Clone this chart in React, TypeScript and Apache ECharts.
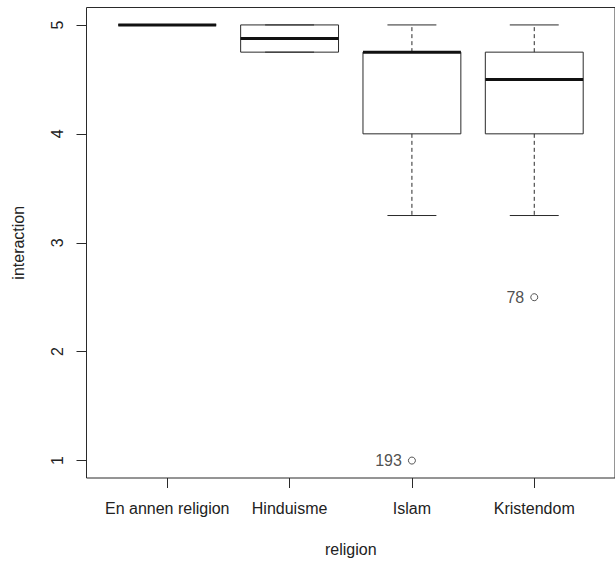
import React, { useEffect, useRef } from "react";
import * as echarts from "echarts";

// Box-and-whisker summary of "interaction" by religion
const categories = ["En annen religion", "Hinduisme", "Islam", "Kristendom"];
const whiskerLow = [5, 4.75, 3.25, 3.25];
const lowerQuartile = [5, 4.75, 4, 4];
const medians = [5, 4.875, 4.75, 4.5];
const upperQuartile = [5, 5, 4.75, 4.75];
const whiskerHigh = [5, 5, 5, 5];

// Outlying observations (category position, value, case label)
const outlierCategory = [3, 4];
const outlierValues = [1, 2.5];
const outlierLabels = ["193", "78"];

const yTicks = [1, 2, 3, 4, 5];
const xTicks = [1, 2, 3, 4];

const FONT = "'Liberation Sans', Arial, Helvetica, sans-serif";
const INK = "#2a2a2a";
const BOX_WIDTH = 0.8;
const STAPLE_WIDTH = 0.4;

export default function App() {
  const ref = useRef<HTMLDivElement>(null);

  useEffect(() => {
    if (!ref.current) return;
    const chart = echarts.init(ref.current, undefined, { renderer: "svg" });

    const boxData = categories.map((_, i) => [
      i + 1,
      whiskerLow[i],
      lowerQuartile[i],
      medians[i],
      upperQuartile[i],
      whiskerHigh[i],
    ]);

    const outlierData = outlierValues.map((v, i) => ({
      value: [outlierCategory[i], v],
      label: { formatter: outlierLabels[i] },
    }));

    const renderBox = (params: any, api: any) => {
      const x = api.value(0);
      const [cx, yLo] = api.coord([x, api.value(1)]);
      const yQ1 = api.coord([x, api.value(2)])[1];
      const yMed = api.coord([x, api.value(3)])[1];
      const yQ3 = api.coord([x, api.value(4)])[1];
      const yHi = api.coord([x, api.value(5)])[1];
      const half = api.size([BOX_WIDTH, 0])[0] / 2;
      const staple = api.size([STAPLE_WIDTH, 0])[0] / 2;
      const thin = { stroke: INK, lineWidth: 1, fill: "none" };
      const dashed = { stroke: INK, lineWidth: 1, lineDash: [4, 3] };
      return {
        type: "group",
        children: [
          { type: "line", shape: { x1: cx, y1: yQ3, x2: cx, y2: yHi }, style: dashed },
          { type: "line", shape: { x1: cx, y1: yQ1, x2: cx, y2: yLo }, style: dashed },
          { type: "line", shape: { x1: cx - staple, y1: yHi, x2: cx + staple, y2: yHi }, style: thin },
          { type: "line", shape: { x1: cx - staple, y1: yLo, x2: cx + staple, y2: yLo }, style: thin },
          {
            type: "rect",
            shape: { x: cx - half, y: yQ3, width: half * 2, height: yQ1 - yQ3 },
            style: thin,
          },
          {
            type: "line",
            shape: { x1: cx - half, y1: yMed, x2: cx + half, y2: yMed },
            style: { stroke: "#111", lineWidth: 3 },
          },
        ],
      };
    };

    chart.setOption({
      animation: false,
      backgroundColor: "#ffffff",
      textStyle: { fontFamily: FONT },
      grid: {
        left: 86.5,
        top: 7.5,
        width: 533,
        height: 472,
        show: true,
        borderColor: INK,
        borderWidth: 1,
        backgroundColor: "transparent",
      },
      xAxis: {
        type: "value",
        min: 0.34,
        max: 4.66,
        name: "religion",
        nameLocation: "middle",
        nameGap: 63,
        nameTextStyle: { fontSize: 16, color: "#222", fontFamily: FONT },
        axisLine: { show: false },
        splitLine: { show: false },
        axisTick: {
          show: true,
          length: 10,
          customValues: xTicks,
          lineStyle: { color: INK, width: 1 },
        },
        axisLabel: {
          customValues: xTicks,
          margin: 22,
          fontSize: 16,
          color: "#222",
          fontFamily: FONT,
          formatter: (v: number) => categories[Math.round(v) - 1] ?? "",
        },
      },
      yAxis: {
        type: "value",
        min: 0.84,
        max: 5.16,
        name: "interaction",
        nameLocation: "middle",
        nameGap: 60,
        nameTextStyle: { fontSize: 16, color: "#222", fontFamily: FONT },
        axisLine: { show: false },
        splitLine: { show: false },
        axisTick: {
          show: true,
          length: 10,
          customValues: yTicks,
          lineStyle: { color: INK, width: 1 },
        },
        axisLabel: {
          customValues: yTicks,
          rotate: 90,
          margin: 21,
          fontSize: 16,
          color: "#222",
          fontFamily: FONT,
        },
      },
      series: [
        {
          type: "custom",
          renderItem: renderBox,
          data: boxData,
          encode: { x: 0, y: [1, 2, 3, 4, 5] },
          silent: true,
        },
        {
          type: "scatter",
          data: outlierData,
          symbol: "circle",
          symbolSize: 7,
          itemStyle: { color: "#ffffff", borderColor: INK, borderWidth: 1 },
          label: {
            show: true,
            position: "left",
            distance: 6,
            fontSize: 16,
            color: "#222",
            fontFamily: FONT,
          },
          silent: true,
        },
      ],
    });

    return () => chart.dispose();
  }, []);

  return (
    <div
      ref={ref}
      style={{ position: "fixed", left: 0, top: 0, width: 615, height: 562 }}
    />
  );
}
